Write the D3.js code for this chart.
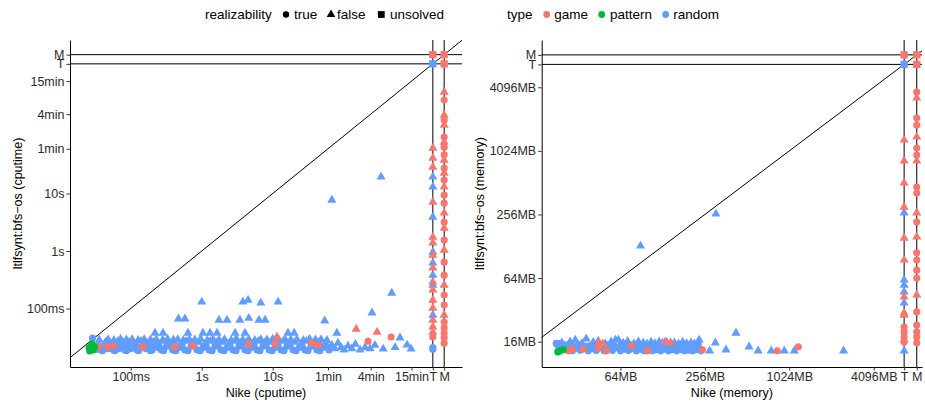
<!DOCTYPE html>
<html><head><meta charset="utf-8">
<script src="https://cdn.jsdelivr.net/npm/d3@7"></script>
<style>body{margin:0;background:#fff} text{font-family:"Liberation Sans",Arial,Helvetica,sans-serif}</style>
</head><body><svg id="c" width="925" height="406"></svg>
<script>
// ---------- DATA (nike value, ltlfsynt value); "T" = timeout, "M" = memout ----------
// cputime panel, seconds
const cpuRandomTrue = [[0.029,0.0307],[0.031,0.021],[0.035,0.023],[0.038,0.019],[0.042,0.022],[0.047,0.020],[0.051,0.024],[0.057,0.019],[0.062,0.022],[0.068,0.020],[0.075,0.023],[0.083,0.019],[0.091,0.021],[0.10,0.020],[0.11,0.023],[0.123,0.019],[0.135,0.021],[0.164,0.020],[0.18,0.022],[0.2,0.019],[0.24,0.021],[0.27,0.019],[0.32,0.022],[0.39,0.019],[0.48,0.021],[0.58,0.019],[0.71,0.022],[0.86,0.019],[1.04,0.021],[1.27,0.019],[1.54,0.022],[1.87,0.019],[2.27,0.021],[2.76,0.019],[3.35,0.022],[4.07,0.019],[4.95,0.021],[6.0,0.019],[7.3,0.022],[8.9,0.019],[10.8,0.021],[13.1,0.019],[15.9,0.022],[19.3,0.019],[23.5,0.021],[28.5,0.019],[34.6,0.022],[42,0.019],[51,0.021],[62,0.019],
  [0.033,0.0195],[0.040,0.0185],[0.049,0.0225],[0.060,0.0185],[0.072,0.0215],[0.087,0.0185],[0.105,0.0225],[0.129,0.0185],[0.15,0.0225],[0.19,0.0185],[0.22,0.0225],[0.29,0.0185],[0.35,0.0225],[0.43,0.0185],[0.53,0.0225],[0.64,0.0185],[0.78,0.0225],[0.95,0.0185],[1.15,0.0225],[1.4,0.0185],[1.7,0.0225],[2.06,0.0185],[2.5,0.0225],[3.04,0.0185],[3.7,0.0225],[4.5,0.0185],[5.45,0.0225],[6.6,0.0185],[8.05,0.0225],[9.8,0.0185],[11.9,0.0225],[14.4,0.0185],[17.5,0.0225],[21.3,0.0185],[25.9,0.0225],[31.4,0.0185],[38.2,0.0225],[46,0.0185],[56,0.0225],
  ["T",0.021],["T",0.0195]];
const cpuRandomFalse = [[0.044,0.026],[0.053,0.024],[0.066,0.027],[0.079,0.025],[0.095,0.026],[0.115,0.024],[0.14,0.027],[0.17,0.025],[0.21,0.026],[0.25,0.024],[0.29,0.027],[0.34,0.025],[0.41,0.026],[0.5,0.024],[0.6,0.027],[0.74,0.025],[0.9,0.026],[1.1,0.024],[1.33,0.027],[1.6,0.025],[1.96,0.026],[2.4,0.024],[2.9,0.027],[3.5,0.025],[4.3,0.026],[5.2,0.024],[6.3,0.027],[7.7,0.025],[9.4,0.026],[11.4,0.024],[14,0.027],[17,0.025],[20.5,0.026],[25,0.024],[30,0.027],[37,0.025],[45,0.026],[55,0.024],[68,0.023],[75,0.020],[83,0.025],[92,0.021],[101,0.019],[115,0.0223],[130,0.020],[146,0.024],[170,0.019],[200,0.021],[235,0.020],[275,0.023],[360,0.0198],[530,0.021],[620,0.031],[780,0.0232],[890,0.0198],
  [0.036,0.0285],[0.048,0.029],[0.058,0.028],[0.072,0.0295],[0.087,0.0285],[0.105,0.029],[0.127,0.028],[0.155,0.029],[0.19,0.0285],[0.23,0.029],[0.28,0.028],[0.33,0.0295],[0.4,0.0285],[0.46,0.029],[0.55,0.028],[0.67,0.029],[0.8,0.0285],[0.97,0.0295],[1.2,0.028],[1.45,0.029],[1.75,0.0285],[2.1,0.029],[2.6,0.028],[3.1,0.0295],[3.8,0.0285],[4.6,0.029],[5.6,0.028],[6.8,0.029],[8.3,0.0285],[10,0.0295],[12.3,0.028],[15,0.029],[18,0.0285],[22,0.029],[27,0.028],[33,0.0295],[40,0.0285],[48,0.029],[58,0.028],
  [0.47,0.066],[0.58,0.066],[1.75,0.063],[2.27,0.063],[3.45,0.063],[4.6,0.068],[6.4,0.063],[7.8,0.063],[54,0.061],[250,0.084],
  [0.22,0.0375],[0.285,0.0375],[0.64,0.0375],[1.04,0.0375],[1.31,0.0375],[1.64,0.0375],[2.95,0.0375],[4.07,0.0375],[16.4,0.0375],[20,0.0375],[80,0.0375],
  [1.0,0.13],[3.8,0.13],[4.5,0.14],[6.8,0.125],[11.9,0.13],[475,0.186],[68,7.7],[336,19.4],
  ["T",19.4],["T",13],["T",3.9],["T",0.96],["T",0.62],["T",0.38],["T",0.256],["T",0.077]];
const cpuRandomUnsolved = [["T","T"]];
const cpuGameTrue = [[0.035,0.0215],[0.047,0.0215],[0.057,0.0223],[0.148,0.0215],[0.42,0.0215],[0.75,0.0223],[4.6,0.024],[10.8,0.024],[35.5,0.025],[44,0.0232],[220,0.027],[465,0.032],["T",0.032],
  ["M",423],["M",190],["M",96],["M",64],["M",47],["M",27.8],["M",17.2],["M",9.4],["M",6.8],["M",3.2],["M",1.55],["M",0.64],["M",0.38],["M",0.172],["M",0.115],["M",0.058],["M",0.046],["M",0.0375],["M",0.031],["M",0.025]];
const cpuGameFalse = [[11.5,0.032],[150,0.044],[295,0.039],
  ["T",61.8],["T",41.4],["T",28.9],["T",7.1],["T",1.75],["T",1.38],["T",0.85],["T",0.51],["T",0.29],["T",0.21],["T",0.14],["T",0.102],["T",0.063],["T",0.048],["T",0.039],
  ["M",582],["M",232],["M",155],["M",78.6],["M",38],["M",22.7],["M",13],["M",4.6],["M",2.5],["M",1.04],["M",0.256],["M",0.077]];
const cpuGameUnsolved = [["T","M"],["M","M"],["M","T"]];
const cpuPatternTrue = [[0.0259,0.0207],[0.0277,0.0223],[0.0295,0.019],[0.031,0.0215],[0.0265,0.0183],[0.0285,0.024]];

// memory panel, MB
const memRandomTrue = [[22.3,15.4],[23.8,15.4],[25.4,13.6],[27.2,14.3],[29.1,13.1],[31,13.9],[33.1,13.3],[35.4,14.5],[37.8,13.1],[40.3,13.8],[43,13.2],[46,14.2],[49,13.1],[52.6,13.7],[56.1,13.2],[60,14],[64,13.1],[68.4,13.6],[73,13.2],[78,13.9],[83,13.1],[89,13.5],[95,13.1],[101.6,13.7],[108.5,13.1],[116,13.4],[124,13.1],[132,13.6],[141,13.1],[150,13.4],[161,13.1],[172,13.5],[183,13.1],[196,13.3],[209,13.1],[223,13.4],[240,13.1],
  [23,14.6],[26,14.9],[29.5,14.6],[32.5,14.9],[38.5,14.6],[42,14.9],[47,14.6],[53,14.9],[58,14.6],[65,14.9],[70,14.6],[76,14.9],[82,14.6],[90,14.9],[97,14.6],[104,14.9],[112,14.6],[120,14.9],[130,14.6],[140,14.9],[152,14.6],[165,14.9],[180,14.6],[195,14.9],[212,14.6],[230,14.9]];
const memRandomFalse = [[24.5,15.6],[28,16],[30.5,16.6],[34,15.4],[36.5,17.0],[41,15.8],[44.5,16.2],[50,15.3],[55,16.0],[59,16.6],[62,16.6],[67,15.5],[72,16.1],[80,15.4],[86,16.0],[93,15.6],[99,15.3],[106,15.9],[113,15.4],[121,16.0],[128,15.5],[137,15.8],[145,15.3],[155,15.6],[166,15.3],[178,15.9],[190,15.4],[204,15.6],[216,15.3],[233,16.6],[304,15.6],[427,19.3],[529,14.3],[614,13.1],[761,13.1],[943,13.1],[1112,13.1],[2497,13.1],[277,13.1],[362,13.4],[89,129],[307,259],
  ["T",265],["T",61.4],["T",55],["T",47.3],["T",37.2],["T",13.1]];
const memRandomUnsolved = [["T","T"]];
const memGameTrue = [[27.2,13.1],[29.1,13.6],[34.8,13.6],[44.8,13.9],[50.9,13.1],[76.8,14.6],[100,13.1],[246,13.4],[840,13.1],[1188,14.3],
  ["T",22],["T",19.8],["T",17.7],["T",15.9],
  ["M",3697],["M",2098],["M",1801],["M",1091],["M",936],["M",466],["M",409],["M",217],["M",111],["M",95],["M",76],["M",64],["M",30.6],["M",23],["M",19.8],["M",17.7],["M",15.6]];
const memGameFalse = [[44.8,15.6],[48,15.3],[133,15.9],[146,15.6],
  ["T",1299],["T",822],["T",509],["T",301],["T",153],["T",95],["T",42.4],["T",29.9],["T",28.6],["T",16.6],
  ["M",3245],["M",1386],["M",822],["M",265],["M",157],["M",44.3]];
const memGameUnsolved = [["T","M"],["M","M"],["M","T"]];
const memPatternTrue = [[23.8,13.1],[25,13.4],[22.9,12.8]];

// ticks
const cpuXTicks = [0.1,1,10,60,240,900,"T","M"];
const cpuXLabels = ["100ms","1s","10s","1min","4min","15min","T","M"];
const cpuYTicks = [0.1,1,10,60,240,900,"T","M"];
const cpuYLabels = ["100ms","1s","10s","1min","4min","15min","T","M"];
const memXTicks = [64,256,1024,4096,"T","M"];
const memXLabels = ["64MB","256MB","1024MB","4096MB","T","M"];
const memYTicks = [16,64,256,1024,4096,"T","M"];
const memYLabels = ["16MB","64MB","256MB","1024MB","4096MB","T","M"];

// ---------- DRAWING ----------
const colors = {game:"#F8766D", pattern:"#00BA38", random:"#619CFF"};
const shapes = {true:d3.symbolCircle, false:d3.symbolTriangle, unsolved:d3.symbolSquare};
const sizes = {true:40, false:36, unsolved:54};
const svg = d3.select("#c");

function drawPanel(p){
  const val = v => v === "T" ? p.T : v === "M" ? p.M : v;
  const x = d3.scaleLog().base(p.base).domain(p.xDomain).range([p.left, p.right]);
  const y = d3.scaleLog().base(p.base).domain(p.yDomain).range([p.bottom, p.top]);
  const g = svg.append("g");
  const cid = "clip" + p.id;
  svg.append("clipPath").attr("id", cid).append("rect")
    .attr("x", p.left).attr("y", p.top).attr("width", p.right - p.left).attr("height", p.bottom - p.top);
  const lines = g.append("g").attr("clip-path", `url(#${cid})`);
  const lo = Math.min(p.xDomain[0], p.yDomain[0]), hi = Math.max(p.xDomain[1], p.yDomain[1]);
  lines.append("line").attr("x1", x(lo)).attr("y1", y(lo)).attr("x2", x(hi)).attr("y2", y(hi))
    .attr("stroke", "#000").attr("stroke-width", 1);
  ["T","M"].forEach(k => {
    lines.append("line").attr("x1", x(val(k))).attr("x2", x(val(k))).attr("y1", p.top).attr("y2", p.bottom)
      .attr("stroke", "#000").attr("stroke-width", 1);
    lines.append("line").attr("y1", y(val(k))).attr("y2", y(val(k))).attr("x1", p.left).attr("x2", p.right)
      .attr("stroke", "#000").attr("stroke-width", 1);
  });
  const pts = g.append("g");
  p.series.forEach(s => {
    pts.append("g").selectAll("path").data(s.data).join("path")
      .attr("transform", d => `translate(${x(val(d[0]))},${y(val(d[1]))})`)
      .attr("d", d3.symbol(shapes[s.real], sizes[s.real]))
      .attr("fill", colors[s.type]);
  });
  const xa = d3.axisBottom(x).tickValues(p.xTicks.map(val)).tickFormat((d,i) => p.xLabels[i]).tickSize(3.5).tickSizeOuter(0).tickPadding(2);
  const ya = d3.axisLeft(y).tickValues(p.yTicks.map(val)).tickFormat((d,i) => p.yLabels[i]).tickSize(3.5).tickSizeOuter(0).tickPadding(2);
  const gx = g.append("g").attr("transform", `translate(0,${p.bottom})`).call(xa);
  const gy = g.append("g").attr("transform", `translate(${p.left},0)`).call(ya);
  [gx, gy].forEach(a => {
    a.select(".domain").attr("stroke", "#000").attr("stroke-width", 1);
    a.selectAll(".tick line").attr("stroke", "#333");
    a.selectAll(".tick text").attr("fill", "#2a2a2a").style("font-size", "12.5px")
      .style("font-family", '"Liberation Sans",Arial,sans-serif');
  });
  g.append("text").attr("x", (p.left + p.right) / 2).attr("y", 397).attr("text-anchor", "middle")
    .style("font-size", "12.5px").attr("fill", "#000").text(p.xTitle);
  g.append("text").attr("transform", `translate(${p.yTitleX},${(p.top + p.bottom) / 2}) rotate(-90)`)
    .attr("text-anchor", "middle").style("font-size", "12.5px").attr("fill", "#000").text(p.yTitle);
}

drawPanel({
  id: "cpu", base: 10, T: 1800, M: 2600,
  xDomain: [0.01396, 4634], yDomain: [0.00961, 4677],
  left: 70, right: 462, top: 40, bottom: 367,
  xTicks: cpuXTicks, xLabels: cpuXLabels, yTicks: cpuYTicks, yLabels: cpuYLabels,
  xTitle: "Nike (cputime)", yTitle: "ltlfsynt:bfs\u2212os (cputime)", yTitleX: 21.5,
  series: [
    {type:"random", real:"true", data:cpuRandomTrue},
    {type:"random", real:"false", data:cpuRandomFalse},
    {type:"random", real:"unsolved", data:cpuRandomUnsolved},
    {type:"game", real:"true", data:cpuGameTrue},
    {type:"game", real:"false", data:cpuGameFalse},
    {type:"game", real:"unsolved", data:cpuGameUnsolved},
    {type:"pattern", real:"true", data:cpuPatternTrue}
  ]
});
drawPanel({
  id: "mem", base: 2, T: 6745, M: 8300,
  xDomain: [17.58, 9045], yDomain: [9.21, 11480],
  left: 541.7, right: 922, top: 40, bottom: 367,
  xTicks: memXTicks, xLabels: memXLabels, yTicks: memYTicks, yLabels: memYLabels,
  xTitle: "Nike (memory)", yTitle: "ltlfsynt:bfs\u2212os (memory)", yTitleX: 484,
  series: [
    {type:"random", real:"true", data:memRandomTrue},
    {type:"random", real:"false", data:memRandomFalse},
    {type:"random", real:"unsolved", data:memRandomUnsolved},
    {type:"game", real:"true", data:memGameTrue},
    {type:"game", real:"false", data:memGameFalse},
    {type:"game", real:"unsolved", data:memGameUnsolved},
    {type:"pattern", real:"true", data:memPatternTrue}
  ]
});

// legend
const leg = svg.append("g").style("font-size", "13.5px");
leg.append("text").attr("x", 205).attr("y", 19).text("realizability");
[["true", 286, 294], ["false", 331, 337], ["unsolved", 381.3, 390]].forEach(([k, cx, tx]) => {
  leg.append("path").attr("transform", `translate(${cx},14.5)`)
    .attr("d", d3.symbol(shapes[k], k === "true" ? 32 : k === "false" ? 32 : 46)).attr("fill", "#000");
  leg.append("text").attr("x", tx).attr("y", 19).text(k);
});
leg.append("text").attr("x", 507).attr("y", 19).text("type");
[["game", 546.7, 554.3], ["pattern", 601.7, 610], ["random", 665.7, 673.3]].forEach(([k, cx, tx]) => {
  leg.append("circle").attr("cx", cx).attr("cy", 14.5).attr("r", 3.4).attr("fill", colors[k]);
  leg.append("text").attr("x", tx).attr("y", 19).text(k);
});
</script></body></html>
